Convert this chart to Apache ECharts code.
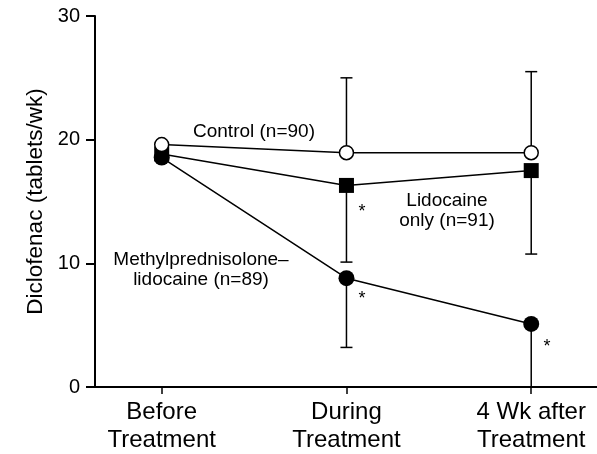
<!DOCTYPE html>
<html>
<head>
<meta charset="utf-8">
<script src="https://cdn.jsdelivr.net/npm/echarts@6/dist/echarts.min.js"></script>
<style>
  html, body { margin: 0; padding: 0; background: #fff; }
  #chart { width: 597px; height: 454px; }
</style>
</head>
<body>
<div id="chart"></div>
<script>
// categories and values
var categories = ['Before\nTreatment', 'During\nTreatment', '4 Wk after\nTreatment'];
var control = [19.6, 18.95, 18.95];
var lidocaine = [18.85, 16.3, 17.5];
var methyl = [18.55, 8.8, 5.1];
// error bar ends (control goes up, the others go down)
var controlUpper = [null, 25.0, 25.5];
var lidocaineLower = [null, 10.1, 10.75];
var methylLower = [null, 3.2, 0];
var yTicks = [0, 10, 20, 30];

var FONT = '"Liberation Sans", Arial, sans-serif';

function pts (arr) {
	return arr.map(function (v, i) { return [i, v]; });
}
function bars (means, ends) {
	var out = [];
	for (var i = 0; i < means.length; i++) {
		if (ends[i] != null) out.push([i, means[i], ends[i]]);
	}
	return out;
}
//误差线
function renderBar (params, api) {
	var p0 = api.coord([api.value(0), api.value(1)]);
	var p1 = api.coord([api.value(0), api.value(2)]);
	var cap = 6;
	return {
		type: 'group',
		children: [
			{ type: 'line', shape: { x1: p0[0], y1: p0[1], x2: p1[0], y2: p1[1] }, style: { stroke: '#000', lineWidth: 1.5 } },
			{ type: 'line', shape: { x1: p1[0] - cap, y1: p1[1], x2: p1[0] + cap, y2: p1[1] }, style: { stroke: '#000', lineWidth: 1.5 } }
		]
	};
}

var myChart = echarts.init(document.getElementById('chart'));
var option = {
	animation: false,
	grid: { left: 95, right: 0, top: 16, bottom: 63, containLabel: false },
	xAxis: {
		type: 'value',
		min: -0.361,
		max: 2.356,
		axisLine: { show: true, onZero: false, lineStyle: { color: '#000', width: 2 } },
		axisTick: { show: true, length: 7, customValues: [0, 1, 2], lineStyle: { color: '#000', width: 1.5 } },
		axisLabel: {
			customValues: [0, 1, 2],
			formatter: function (v) { return categories[Math.round(v)]; },
			color: '#000', fontFamily: FONT, fontSize: 24, lineHeight: 28, margin: 11
		},
		splitLine: { show: false }
	},
	yAxis: {
		type: 'value',
		min: 0, max: 30, interval: 10,
		name: 'Diclofenac (tablets/wk)',
		nameLocation: 'middle',
		nameGap: 42,
		nameTextStyle: { color: '#000', fontFamily: FONT, fontSize: 22.5 },
		axisLine: { show: true, onZero: false, lineStyle: { color: '#000', width: 2 } },
		axisTick: { show: true, length: 9, lineStyle: { color: '#000', width: 2 } },
		axisLabel: {
			customValues: yTicks,
			color: '#000', fontFamily: FONT, fontSize: 20, margin: 15
		},
		splitLine: { show: false }
	},
	series: [
		{ type: 'custom', renderItem: renderBar, data: bars(control, controlUpper), z: 1 },
		{ type: 'custom', renderItem: renderBar, data: bars(lidocaine, lidocaineLower), z: 1 },
		{ type: 'custom', renderItem: renderBar, data: bars(methyl, methylLower), z: 1 },
		{
			name: 'Methylprednisolone–lidocaine', type: 'line', data: pts(methyl), z: 2,
			symbol: 'circle', symbolSize: 16,
			lineStyle: { color: '#000', width: 1.5 },
			itemStyle: { color: '#000', borderColor: '#000', borderWidth: 0 }
		},
		{
			name: 'Lidocaine only', type: 'line', data: pts(lidocaine), z: 3,
			symbol: 'rect', symbolSize: 15,
			lineStyle: { color: '#000', width: 1.5 },
			itemStyle: { color: '#000', borderColor: '#000', borderWidth: 0 }
		},
		{
			name: 'Control', type: 'line', data: pts(control), z: 4,
			symbol: 'circle', symbolSize: 14,
			lineStyle: { color: '#000', width: 1.5 },
			itemStyle: { color: '#fff', borderColor: '#000', borderWidth: 1.5 }
		}
	],
	graphic: [
		{ type: 'text', x: 254, y: 131.5, style: { text: 'Control (n=90)', font: '19px ' + FONT, fill: '#000', align: 'center', verticalAlign: 'middle' } },
		{ type: 'text', x: 447, y: 210.5, style: { text: 'Lidocaine\nonly (n=91)', font: '19px ' + FONT, lineHeight: 20, fill: '#000', align: 'center', verticalAlign: 'middle' } },
		{ type: 'text', x: 201, y: 270, style: { text: 'Methylprednisolone–\nlidocaine (n=89)', font: '19px ' + FONT, lineHeight: 20, fill: '#000', align: 'center', verticalAlign: 'middle' } },
		{ type: 'text', x: 362, y: 212, style: { text: '*', font: '18px ' + FONT, fill: '#000', align: 'center', verticalAlign: 'middle' } },
		{ type: 'text', x: 362, y: 299, style: { text: '*', font: '18px ' + FONT, fill: '#000', align: 'center', verticalAlign: 'middle' } },
		{ type: 'text', x: 547, y: 347, style: { text: '*', font: '18px ' + FONT, fill: '#000', align: 'center', verticalAlign: 'middle' } }
	]
};
myChart.setOption(option);
</script>
</body>
</html>
